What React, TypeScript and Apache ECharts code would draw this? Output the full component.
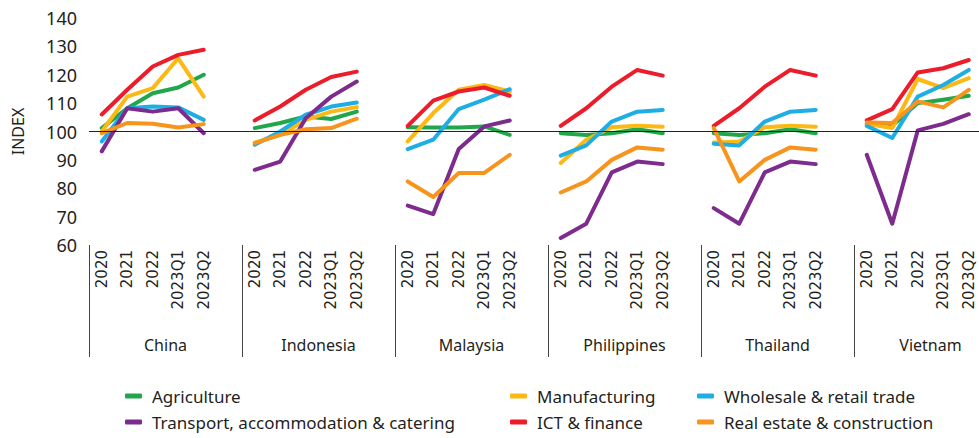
import React, { useEffect, useRef } from "react";
import * as echarts from "echarts";

const periods = ["2020", "2021", "2022", "2023Q1", "2023Q2"];
const countries = ["China", "Indonesia", "Malaysia", "Philippines", "Thailand", "Vietnam"];
const yTicks = [60, 70, 80, 90, 100, 110, 120, 130, 140];

const agriculture = [101.2, 108.2, 113.5, 115.5, 120, 101.2, 103, 105.3, 104.4, 107, 101.5, 101.4, 101.4, 101.8, 98.8, 99.4, 98.8, 99.4, 100.8, 99.4, 99.4, 98.8, 99.4, 100.8, 99.4, 102.7, 102, 110, 111.2, 112.6];
const manufacturing = [100, 112.3, 115.3, 125.8, 112.3, 96.1, 98.8, 104.1, 107, 108.6, 96.5, 106.5, 114.7, 116.4, 114.1, 88.9, 97.1, 101.5, 102, 101.7, 96.1, 96.5, 101.5, 102, 101.7, 102.7, 101.2, 118.5, 115.3, 118.8];
const wholesale = [96.5, 108.2, 108.8, 108.5, 104.1, 95.3, 100, 105.9, 108.8, 110.2, 93.8, 97.1, 107.9, 111.2, 114.9, 91.5, 95.1, 103.5, 107, 107.6, 95.7, 95.1, 103.5, 107, 107.6, 102, 97.7, 112.3, 116.4, 121.7];
const transport = [93, 108.2, 107, 108.2, 99.4, 86.5, 89.4, 104.7, 112.3, 117.6, 73.9, 70.9, 93.8, 101.8, 103.9, 62.5, 67.5, 85.6, 89.4, 88.5, 73, 67.5, 85.6, 89.4, 88.5, 91.8, 67.5, 100.4, 102.7, 106.1];
const ict = [106, 114.7, 122.9, 127, 128.8, 103.9, 108.8, 114.7, 119.2, 121.1, 102, 110.9, 114.1, 115.5, 112.6, 102, 108.2, 115.8, 121.7, 119.7, 102, 108.2, 115.8, 121.7, 119.7, 103.9, 107.9, 120.8, 122.3, 125.2];
const realEstate = [99.4, 103, 102.7, 101.4, 102.6, 95.9, 98.8, 100.8, 101.2, 104.5, 82.4, 76.9, 85.4, 85.4, 91.8, 78.5, 82.4, 90, 94.4, 93.6, 101.2, 82.4, 90, 94.4, 93.6, 103.2, 103, 110.6, 108.5, 114.7];

const sectorNames = [
  "Agriculture",
  "Manufacturing",
  "Wholesale & retail trade",
  "Transport, accommodation & catering",
  "ICT & finance",
  "Real estate & construction",
];
const sectorValues = [agriculture, manufacturing, wholesale, transport, ict, realEstate];
const sectorColors = ["#21a74b", "#fdb913", "#1eaee4", "#7d2b8c", "#ec1c2a", "#f7941d"];

const TEXT = "#231f20";
const FONT = "'Noto Sans', sans-serif";

// 6 categories per country: 5 periods + one blank gap slot
const xCategories: string[] = [];
countries.forEach(() => {
  periods.forEach((p) => xCategories.push(p));
  xCategories.push("");
});

function expand(values: number[]): (number | null)[] {
  const out: (number | null)[] = [];
  countries.forEach((_, ci) => {
    periods.forEach((_, pi) => out.push(values[ci * periods.length + pi]));
    out.push(null);
  });
  return out;
}

// legend layout: [left, top]
const legendPos: [number, number][] = [
  [125, 386],
  [510, 386],
  [697, 386],
  [125, 412],
  [510, 412],
  [697, 412],
];

export default function App() {
  const ref = useRef<HTMLDivElement>(null);
  useEffect(() => {
    if (!ref.current) return;
    const chart = echarts.init(ref.current, undefined, { renderer: "svg" });
    const series: any[] = [
      {
        name: "__ref",
        type: "line",
        data: xCategories.map(() => null),
        z: 1,
        silent: true,
        showSymbol: false,
        markLine: {
          silent: true,
          symbol: ["none", "none"],
          label: { show: false },
          lineStyle: { color: "#222", width: 1.2, type: "solid" },
          data: [{ yAxis: 100 }],
        },
      },
    ];
    sectorNames.forEach((name, i) => {
      series.push({
        name,
        type: "line",
        data: expand(sectorValues[i]),
        connectNulls: false,
        showSymbol: false,
        symbol: "none",
        z: 3,
        color: sectorColors[i],
        lineStyle: { width: 4, color: sectorColors[i], cap: "round", join: "round" },
      });
    });
    chart.setOption({
      animation: false,
      textStyle: { fontFamily: FONT, color: TEXT },
      grid: { left: 89, right: 3, top: 18, bottom: 193, containLabel: false },
      legend: sectorNames.map((name, i) => ({
        data: [name],
        left: legendPos[i][0],
        top: legendPos[i][1],
        padding: 0,
        icon: "roundRect",
        itemWidth: 17,
        itemHeight: 5,
        selectedMode: false,
        textStyle: { fontFamily: FONT, fontSize: 17, color: TEXT, lineHeight: 20, padding: [0, 0, 0, 5] },
      })),
      xAxis: [
        {
          type: "category",
          data: xCategories,
          boundaryGap: true,
          axisLine: { show: false },
          axisTick: {
            show: true,
            interval: (index: number) => index % 6 === 0,
            length: 112,
            lineStyle: { color: "#444", width: 1 },
          },
          axisLabel: {
            interval: 0,
            rotate: 90,
            margin: 5,
            fontFamily: "'DejaVu Sans', sans-serif",
            fontSize: 15,
            color: TEXT,
          },
          splitLine: { show: false },
        },
        {
          type: "category",
          data: countries,
          position: "bottom",
          boundaryGap: true,
          axisLine: { show: false },
          axisTick: { show: false },
          axisLabel: { interval: 0, margin: 92, fontFamily: FONT, fontSize: 16, color: TEXT },
          splitLine: { show: false },
        },
      ],
      yAxis: {
        type: "value",
        min: yTicks[0],
        max: yTicks[yTicks.length - 1],
        interval: 10,
        name: "INDEX",
        nameLocation: "middle",
        nameGap: 63,
        nameTextStyle: { fontFamily: FONT, fontSize: 16, color: TEXT },
        axisLine: { show: false },
        axisTick: { show: false },
        splitLine: { show: false },
        axisLabel: { margin: 12, fontFamily: FONT, fontSize: 18, color: TEXT },
      },
      series,
    });
    return () => chart.dispose();
  }, []);
  return (
    <div
      style={{ position: "fixed", left: 0, top: 0, width: 979, height: 438, overflow: "hidden", background: "#fff" }}
    >
      <div ref={ref} style={{ width: 1010, height: 438 }} />
    </div>
  );
}
